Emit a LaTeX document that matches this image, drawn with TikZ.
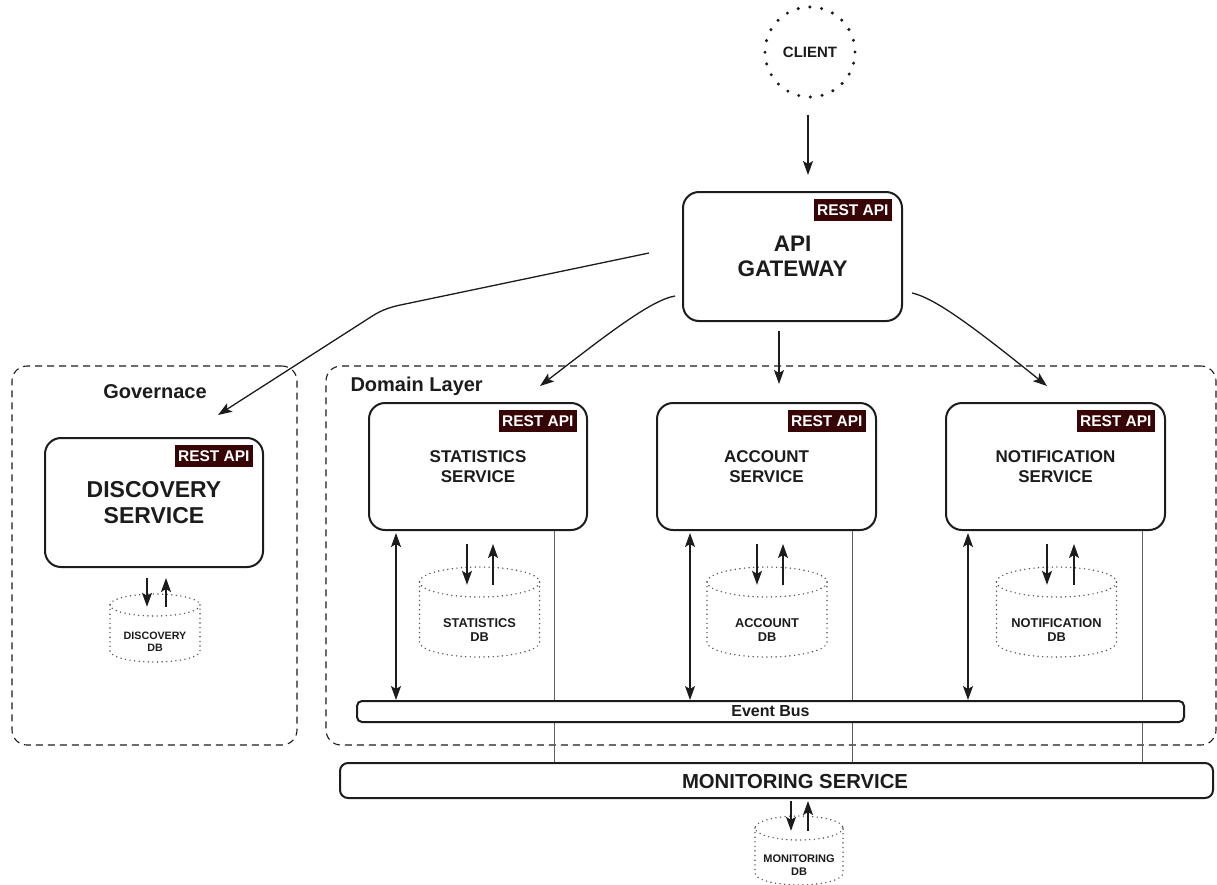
\documentclass[tikz,border=0pt]{standalone}
\usepackage{fontspec}
\setmainfont{Liberation Sans}
\usetikzlibrary{arrows.meta,calc}
\definecolor{restbg}{RGB}{55,5,5}
\definecolor{ink}{RGB}{28,28,28}
\definecolor{thinline}{RGB}{95,95,95}
\definecolor{dbdot}{RGB}{85,85,85}

% cylinder: name, cx, top-ellipse y, bottom-ellipse y, rx, ry, text y, font size, label
\newcommand\dbcylinder[9]{%
  \draw[dbline] (#2-#5,#3) -- (#2-#5,#4)
    arc[start angle=180,end angle=0,x radius=#5,y radius=#6] -- (#2+#5,#3);
  \draw[dbline] (#2,#3) ellipse [x radius=#5,y radius=#6];
  \node[inner sep=0, minimum width=2*#5, minimum height=#4-#3+2*#6] (#1) at (#2,{(#3+#4)/2}) {};
  \node[dbtext, font=\bfseries\fontsize{#8}{1.15\dimexpr#8pt\relax}\selectfont] (#1-label) at (#2,#7) {#9};
}

\begin{document}
\begin{tikzpicture}[x=1pt,y=-1pt,
  every node/.style={text=ink},
  svc/.style={draw=ink, line width=2pt, rounded corners=16pt, fill=white,
    align=center, inner sep=0, font=\bfseries\fontsize{17}{19.5}\selectfont},
  rest/.style={fill=restbg, text=white, inner sep=0, minimum width=78pt,
    minimum height=22pt, font=\bfseries\fontsize{15.5}{15.5}\selectfont},
  group/.style={draw=ink, line width=1.1pt, dash pattern=on 7pt off 5pt,
    rounded corners=15pt, inner sep=0},
  grouplabel/.style={font=\bfseries\fontsize{20}{20}\selectfont},
  dbline/.style={draw=dbdot, line width=1.6pt, dash pattern=on 0pt off 4.6pt, line cap=round},
  dbtext/.style={align=center, inner sep=0},
  tip/.tip={Stealth[length=14pt,width=10pt,inset=3pt]},
  arr/.style={draw=ink, line width=1.3pt, -tip},
  darr/.style={draw=ink, line width=1.3pt, tip-tip},
  feed/.style={draw=thinline, line width=0.8pt},
]
\useasboundingbox (0,0) rectangle (1217,884);

% client
\node[circle, minimum size=90pt, draw=ink, line width=3.4pt,
  dash pattern=on 0pt off 11.8pt, line cap=round,
  font=\bfseries\fontsize{15}{15}\selectfont] (client) at (810,52) {CLIENT};

% containers
\node[group, minimum width=285pt, minimum height=379pt] (gov) at (154.5,555.5) {};
\node[group, minimum width=890pt, minimum height=379pt] (dom) at (771,555.5) {};
\node[grouplabel] (govlbl) at (155,392) {Governace};
\node[grouplabel, anchor=west] (domlbl) at (347,386) {Domain Layer};

% gateway and services
\node[svc, minimum width=219pt, minimum height=129pt,
  font=\bfseries\fontsize{22.5}{25.5}\selectfont] (gw) at (792.5,256.5) {API\\GATEWAY};
\node[svc, minimum width=218pt, minimum height=129pt,
  font=\bfseries\fontsize{23}{25.5}\selectfont] (disc) at (154,502.5) {DISCOVERY\\SERVICE};
\node[svc, minimum width=218pt, minimum height=127pt] (stat) at (478,466.5) {STATISTICS\\SERVICE};
\node[svc, minimum width=219pt, minimum height=127pt] (acct) at (766.5,466.5) {ACCOUNT\\SERVICE};
\node[svc, minimum width=219pt, minimum height=127pt] (notif) at (1055.5,466.5) {NOTIFICATION\\SERVICE};

\foreach \b in {gw,disc,stat,acct,notif}
  \node[rest, anchor=north east] (\b-rest) at ([xshift=-11pt,yshift=-8pt]\b.north east) {REST API};

% databases
\dbcylinder{discdb}{155}{605}{651}{45}{11}{642}{10.7}{DISCOVERY\\DB}
\dbcylinder{statdb}{479.5}{582}{642}{60}{15}{630}{12.8}{STATISTICS\\DB}
\dbcylinder{acctdb}{767}{582}{642}{60}{15}{630}{12.8}{ACCOUNT\\DB}
\dbcylinder{notifdb}{1056.5}{582}{642}{60}{15}{630}{12.8}{NOTIFICATION\\DB}
\dbcylinder{mondb}{799}{828}{873}{44}{12}{865}{11}{MONITORING\\DB}

% feeds from services into monitoring (behind the bus)
\coordinate (monTop) at (0,763);
\draw[feed] ([xshift=-34pt]stat.south east) -- ([xshift=-34pt]stat.south east |- monTop);
\draw[feed] ([xshift=-25pt]acct.south east) -- ([xshift=-25pt]acct.south east |- monTop);
\draw[feed] ([xshift=-24pt]notif.south east) -- ([xshift=-24pt]notif.south east |- monTop);

% event bus and monitoring
\node[draw=ink, line width=2pt, rounded corners=5pt, fill=white, inner sep=0,
  minimum width=827pt, minimum height=21pt] (bus) at (770.5,711.5) {};
\node[font=\bfseries\fontsize{16}{16}\selectfont, inner sep=0] (buslbl) at (770.5,711.5) {Event Bus};
\node[draw=ink, line width=2pt, rounded corners=8pt, fill=white, inner sep=0,
  minimum width=873pt, minimum height=35pt] (mon) at (776.5,780.5) {};
\node[font=\bfseries\fontsize{20.3}{20.3}\selectfont, inner sep=0] (monlbl) at (795,781) {MONITORING SERVICE};

% client to gateway
\draw[arr] ([xshift=-2pt,yshift=-16pt]client.south) -- ([xshift=15.5pt,yshift=16pt]gw.north);

% gateway routing
\draw[arr] ($(gw.west)+(-33,-3.5)$) -- (398,305.5)
  .. controls (386,308.5) and (380,311) .. (370,317.5) -- ($(disc.north)+(64,-22)$);
\draw[arr] ($(gw.west)+(-7,39.5)$) .. controls (650,300) and (600,340) .. ($(stat.north)+(62,-16)$);
\draw[arr] ($(gw.south)+(-13.5,9)$) -- ($(acct.north)+(12.5,-18)$);
\draw[arr] ($(gw.east)+(9,36.5)$) .. controls (935,298) and (975,328) .. ($(notif.north)+(-8.5,-16)$);

% services to event bus
\draw[darr] ([xshift=28pt,yshift=-2pt]stat.south west) -- ([xshift=28pt]stat.south west |- bus.north);
\draw[darr] ([xshift=34pt,yshift=-2pt]acct.south west) -- ([xshift=34pt]acct.south west |- bus.north);
\draw[darr] ([xshift=23pt,yshift=-2pt]notif.south west) -- ([xshift=23pt]notif.south west |- bus.north);

% service <-> database
\draw[arr] ($(disc.south)+(-7,10)$) -- ($(discdb.north)+(-8,13)$);
\draw[arr] ($(discdb.north)+(11,13)$) -- ($(disc.south)+(12,10)$);
\draw[arr] ($(stat.south)+(-11,13)$) -- ($(statdb.north)+(-12.5,18)$);
\draw[arr] ($(statdb.north)+(13.5,18)$) -- ($(stat.south)+(15,13)$);
\draw[arr] ($(acct.south)+(-9.5,13)$) -- ($(acctdb.north)+(-10,18)$);
\draw[arr] ($(acctdb.north)+(16,18)$) -- ($(acct.south)+(16.5,13)$);
\draw[arr] ($(notif.south)+(-8.5,13)$) -- ($(notifdb.north)+(-9.5,18)$);
\draw[arr] ($(notifdb.north)+(17.5,18)$) -- ($(notif.south)+(18.5,13)$);
\draw[arr] ($(mon.south)+(14.5,2)$) -- ($(mondb.north)+(-8,15)$);
\draw[arr] ($(mondb.north)+(9,15)$) -- ($(mon.south)+(31.5,2)$);
\end{tikzpicture}
\end{document}
